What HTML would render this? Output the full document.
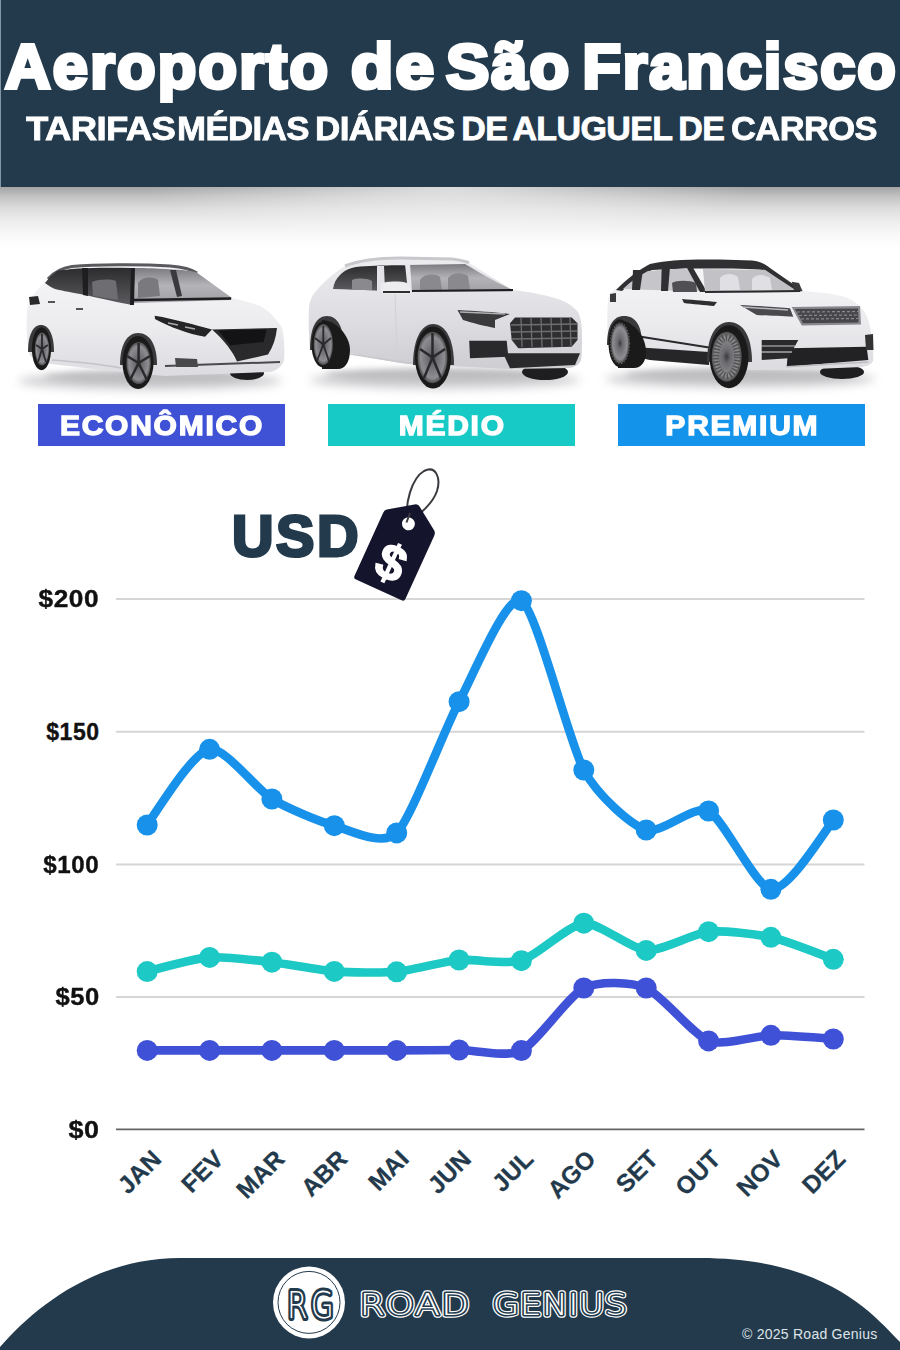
<!DOCTYPE html>
<html lang="pt">
<head>
<meta charset="utf-8">
<title>Aeroporto de São Francisco - Tarifas médias diárias de aluguel de carros</title>
<style>
html,body{margin:0;padding:0;}
body{width:900px;height:1350px;overflow:hidden;background:#fff;position:relative;font-family:"Liberation Sans",Arial,sans-serif;}
.abs{position:absolute;}
#hdr{left:0;top:0;width:900px;height:187px;background:#233a4c;}
#hdr:before{content:"";position:absolute;left:0;top:0;width:1px;height:187px;background:#8196a6;}
#shadow{left:0;top:187px;width:900px;height:70px;background:radial-gradient(ellipse 300px 50px at 450px 0px,rgba(255,255,255,0.6),rgba(255,255,255,0) 100%),linear-gradient(#a4a4a4 0px,#c4c4c4 10px,#dedede 22px,#efefef 36px,#fafafa 50px,#fff 62px);}
#title{left:0;top:31px;width:900px;height:70px;color:#fff;font-weight:bold;font-size:63px;line-height:70px;white-space:nowrap;-webkit-text-stroke:4px #fff;letter-spacing:1.95px;}
#title span{position:absolute;top:0;transform-origin:0 50%;}
#sub{left:0;top:108px;width:900px;height:40px;color:#fff;font-weight:bold;font-size:34px;line-height:40px;white-space:nowrap;-webkit-text-stroke:0.8px #fff;letter-spacing:-0.6px;}
#sub span{position:absolute;top:0;transform-origin:0 50%;}
.lbl{top:404px;height:42px;color:#fff;font-weight:bold;font-size:27px;line-height:45px;text-align:center;white-space:nowrap;overflow:hidden;}
.lbl span{display:inline-block;transform:scaleX(1.11);letter-spacing:1.6px;margin-right:-1.6px;-webkit-text-stroke:1.3px #fff;}
#l1{left:38px;width:247px;background:#3f51d4;}
#l2{left:328px;width:247px;background:#18cac5;}
#l3{left:618px;width:247px;background:#1493ea;}
#usd{left:232px;top:503.8px;color:#233a4c;font-weight:bold;font-size:57.5px;line-height:64px;-webkit-text-stroke:3px #233a4c;letter-spacing:2.6px;}
.yl{right:801px;color:#111;font-weight:bold;font-size:23px;line-height:24px;text-align:right;letter-spacing:0.5px;margin-right:-0.5px;-webkit-text-stroke:0.35px #111;}
#svg{left:0;top:0;}
#copy{left:742px;top:1326px;color:#dfe4e8;font-size:14px;line-height:16px;letter-spacing:0.25px;}
</style>
</head>
<body>
<div id="hdr" class="abs"></div>
<div id="shadow" class="abs"></div>
<div id="title" class="abs"><span style="left:5px;letter-spacing:2.3px">Aeroporto</span> <span style="left:350.5px;transform:scaleX(1.1)">de</span> <span style="left:445.8px;transform:scaleX(1.03)">São</span> <span style="left:582.4px">Francisco</span></div>
<div id="sub" class="abs"><span style="left:26.1px;transform:scaleX(1.075)">TARIFAS</span> <span style="left:177.3px;transform:scaleX(1.025)">MÉDIAS</span> <span style="left:315px;transform:scaleX(1.03)">DIÁRIAS</span> <span style="left:461.3px">DE</span> <span style="left:512.4px">ALUGUEL</span> <span style="left:678.3px">DE</span> <span style="left:731.1px;transform:scaleX(1.015)">CARROS</span></div>

<svg id="svg" class="abs" width="900" height="1350" viewBox="0 0 900 1350">
<defs>
<filter id="blur6" x="-30%" y="-200%" width="160%" height="500%"><feGaussianBlur stdDeviation="5"/></filter>
<filter id="blur3" x="-30%" y="-200%" width="160%" height="500%"><feGaussianBlur stdDeviation="3"/></filter>
<linearGradient id="body" x1="0" y1="0" x2="0" y2="1"><stop offset="0" stop-color="#f6f6f8"/><stop offset="0.55" stop-color="#ececef"/><stop offset="1" stop-color="#dcdce0"/></linearGradient>
<linearGradient id="body2" x1="0" y1="0" x2="0" y2="1"><stop offset="0" stop-color="#ececef"/><stop offset="0.55" stop-color="#dedee2"/><stop offset="1" stop-color="#cdcdd2"/></linearGradient>
<linearGradient id="glassD" x1="0" y1="0" x2="0" y2="1"><stop offset="0" stop-color="#2c2c2e"/><stop offset="1" stop-color="#5c5c60"/></linearGradient>
<linearGradient id="glassL" x1="0" y1="0" x2="0" y2="1"><stop offset="0" stop-color="#7c7c80"/><stop offset="0.5" stop-color="#b4b4b8"/><stop offset="1" stop-color="#a0a0a4"/></linearGradient>
<radialGradient id="rim"><stop offset="0" stop-color="#3a3a3c"/><stop offset="0.25" stop-color="#6a6a6e"/><stop offset="0.8" stop-color="#8e8e92"/><stop offset="1" stop-color="#4a4a4c"/></radialGradient>
</defs>
<!-- ground shadows -->
<ellipse cx="150" cy="381" rx="132" ry="9" fill="#cfcfd2" filter="url(#blur6)"/>
<ellipse cx="445" cy="380" rx="135" ry="9" fill="#cfcfd2" filter="url(#blur6)"/>
<ellipse cx="740" cy="379" rx="135" ry="9" fill="#cfcfd2" filter="url(#blur6)"/>
<ellipse cx="150" cy="377" rx="105" ry="6" fill="#bdbdc0" filter="url(#blur3)"/>
<ellipse cx="440" cy="375" rx="115" ry="6" fill="#bdbdc0" filter="url(#blur3)"/>
<ellipse cx="740" cy="375" rx="115" ry="6" fill="#bdbdc0" filter="url(#blur3)"/>

<!-- ===== ECONOMY (hatchback) ===== -->
<g>
<ellipse cx="247" cy="373" rx="17" ry="7" fill="#1e1e20"/>
<path d="M30 356 C27 345 26 325 27 312 C28 302 32 295 40 287 L50 277 C55 272 60 269 70 267 C90 265 130 264 160 266 C175 267 190 268 196 272 L232 298 C245 301 255 304 260 306 C268 310 276 318 282 328 C284 335 285 350 284 360 C282 366 278 370 270 372 L165 376 L120 372 C95 369 70 366 50 364 Z" fill="url(#body)"/>
<path d="M48 279 C54 272 62 268 72 266.5 C95 264.5 140 264 170 266 C182 267 191 269 197 273" fill="none" stroke="#5a5a5e" stroke-width="3"/>
<path d="M45 283 L50 277 L57 271 C70 268 100 267 133 268 L132 305 C120 303 100 298 80 294 C68 292 60 290 55 289 C52 288 49 286 45 283 Z" fill="url(#glassD)"/>
<path d="M92 282 C100 279 110 279 116 281 L118 300 L93 296 Z" fill="#6e6e72"/>
<path d="M82 268 L88 268 L88 296 L83 295 Z" fill="#1e1e20"/>
<path d="M133 268 C150 268 180 269 196 272 L232 298 L231 300 L133 303 Z" fill="url(#glassL)"/>
<path d="M138 283 C142 277 152 276 158 280 L160 296 L138 298 Z" fill="#7a7a7e"/>
<path d="M170 270 L176 270 L182 296 L177 297 Z" fill="#3a3a3c"/>
<path d="M131 268 L135 268 L134 305 L130 305 Z" fill="#1e1e20"/>
<path d="M133 300 L231 298.5" stroke="#1e1e20" stroke-width="2.5"/>
<path d="M29 297 L38 296 L40 304 L30 305 Z" fill="#2a2a2c"/>
<path d="M48 302 L55 302 M76 309 L83 309" stroke="#555" stroke-width="2"/>
<path d="M154.7 315.7 C175 319 195 325 212 329.6 L205 336.8 C188 334 170 327 155 319 Z" fill="#242426"/>
<path d="M168 323 L178 325 M185 327 L195 329" stroke="#aaa" stroke-width="1.5"/>
<path d="M212 329.6 L277 328 C276 338 273 347 268 354.5 L237 361.5 C233 352 224 340 212 329.6 Z" fill="#2a2a2c"/>
<path d="M218.4 330.4 L266.6 329.6 L263.5 342 L230 345.2 Z" fill="#131315"/>
<path d="M175 358 L197 359 L198 367 L176 367 Z" fill="#48484a"/>
<path d="M165 366 L280 362" stroke="#4a4a4c" stroke-width="2"/>
<path d="M52 360 C80 362 105 365 121 368" stroke="#c4c4c8" stroke-width="1.5" fill="none"/>
<!-- wheels -->
<path d="M28 352 C28 335 33 325 41 325 C49 325 54 335 54 352 Z" fill="#3a3a3c"/>
<ellipse cx="41.5" cy="348.7" rx="9.6" ry="21.5" fill="#1a1a1a"/>
<ellipse cx="42" cy="349" rx="7.2" ry="16.5" fill="url(#rim)"/>
<path d="M120 365 C120 345 127 333 138 333 C150 333 157 345 157 365 Z" fill="#3a3a3c"/>
<ellipse cx="138" cy="362.4" rx="15.5" ry="26.5" fill="#1a1a1a"/>
<ellipse cx="138.6" cy="363" rx="12.3" ry="21" fill="url(#rim)"/>
<g stroke="#2a2a2c" stroke-width="2.5"><line x1="138.6" y1="363" x2="138.6" y2="343"/><line x1="138.6" y1="363" x2="150" y2="356"/><line x1="138.6" y1="363" x2="147" y2="380"/><line x1="138.6" y1="363" x2="130" y2="380"/><line x1="138.6" y1="363" x2="127" y2="356"/></g>
<g stroke="#2a2a2c" stroke-width="1.8"><line x1="42" y1="349" x2="42" y2="334"/><line x1="42" y1="349" x2="48" y2="345"/><line x1="42" y1="349" x2="46" y2="362"/><line x1="42" y1="349" x2="38" y2="362"/><line x1="42" y1="349" x2="36" y2="345"/></g>
</g>

<!-- ===== MEDIUM (Q8) ===== -->
<g>
<ellipse cx="545" cy="372" rx="23" ry="8" fill="#1e1e20"/>
<path d="M310 350 C309 335 308 318 309.2 305 C311 298 313 294 317 290 C322 284 328 278 335 273 C340 269 345 266 350 264 C362 260 375 258 390 258 L450 260 C458 261 465 262 469 263 L513 290 C530 292 545 295 555 298 C565 301 572 305 578 312 C581 318 582 325 582 335 C582 345 582 355 581 360 C579 365 575 367 570 368 L510 369 L468 367 L450 366 C430 365 415 365 400 363 C380 360 365 356 350 353 Z" fill="url(#body2)"/>
<path d="M345 266 C360 260 380 258 400 258 L452 259 C460 260 466 261 469 263" fill="none" stroke="#c8c8cc" stroke-width="3"/>
<path d="M333 289 C334 283 336 279 340 275 C345 270 350 268 356 267 C370 266 390 265 407 265.5 L410 291 C390 291 360 290 333 289 Z" fill="url(#glassD)"/>
<path d="M352 280 C358 278 366 278 372 281 L372 290 L352 290 Z" fill="#8a8a8e"/>
<path d="M377 266 L384 266 L385 291 L377 291 Z" fill="#e4e4e8"/>
<path d="M407 265 L465 264 C475 270 495 282 513 290 L512 291.5 L410 292 Z" fill="url(#glassL)"/>
<path d="M420 280 C424 274 434 273 440 277 L442 290 L420 290 Z" fill="#8a8a8e"/>
<path d="M448 278 C452 272 462 272 468 276 L470 290 L448 290 Z" fill="#8a8a8e"/>
<path d="M410 291 L513 290" stroke="#1e1e20" stroke-width="2"/>
<path d="M405 264 L410 264 L412 292 L408 292 Z" fill="#e8e8ec"/>
<path d="M381 284 C385 281 400 281 407 283 L411 290 C411 293 408 294 404 294 L385 294 C381 293 380 288 381 284 Z" fill="#ededf0"/>
<path d="M383 292 L410 292" stroke="#2e2e30" stroke-width="2"/>
<path d="M457.5 310 C475 311 495 312 510 314 L495 320 L495 328 C485 326 472 323 463 320 Z" fill="#3a3a3c"/>
<path d="M460 312 L505 314" stroke="#b0b0b4" stroke-width="1.5"/>
<path d="M515 317.5 L571.7 317.5 L577.5 323.3 L577.5 340 L571.7 346.7 L518.3 348.3 L511.7 340 L510 323.3 Z" fill="#2e2e30"/>
<g stroke="#6e6e72" stroke-width="1.3">
<line x1="511" y1="325" x2="577" y2="324"/><line x1="511" y1="332" x2="577" y2="331"/><line x1="512" y1="339" x2="577" y2="338"/>
<line x1="521" y1="318" x2="522" y2="347"/><line x1="531" y1="318" x2="532" y2="347"/><line x1="541" y1="318" x2="542" y2="347"/><line x1="551" y1="318" x2="552" y2="347"/><line x1="561" y1="318" x2="562" y2="347"/><line x1="570" y1="318" x2="571" y2="346"/>
</g>
<path d="M469.2 340.8 L506.7 340.8 L508.3 356.7 L470 358.3 Z" fill="#2a2a2c"/>
<path d="M503 353.3 L580 353.3 L575 365 L510 368.3 Z" fill="#2a2a2c"/>
<path d="M350 354 C380 359 410 363 418 364" stroke="#c8c8cc" stroke-width="1.5" fill="none"/>
<path d="M395 294 L397 350" stroke="#d2d2d6" stroke-width="1"/>
<!-- wheels -->
<path d="M310 350 C310 328 316 316 327 316 C338 316 344 328 344 350 Z" fill="#3a3a3c"/>
<path d="M322 320 C335 320 350 335 350 350 C350 362 345 369 338 369 L322 369 Z" fill="#1a1a1a"/>
<ellipse cx="323" cy="344.5" rx="11.5" ry="23" fill="#1a1a1a"/>
<ellipse cx="323.3" cy="344.5" rx="9.6" ry="20.5" fill="url(#rim)"/>
<g stroke="#2a2a2c" stroke-width="1.8"><line x1="323.3" y1="344.5" x2="323.3" y2="326"/><line x1="323.3" y1="344.5" x2="331" y2="338"/><line x1="323.3" y1="344.5" x2="329" y2="361"/><line x1="323.3" y1="344.5" x2="317" y2="361"/><line x1="323.3" y1="344.5" x2="315" y2="338"/></g>
<path d="M413 365 C413 340 421 324 433 324 C446 324 454 340 454 365 Z" fill="#3a3a3c"/>
<ellipse cx="433" cy="357.5" rx="18" ry="31" fill="#1a1a1a"/>
<ellipse cx="432.5" cy="357.5" rx="15" ry="25.8" fill="url(#rim)"/>
<g stroke="#2a2a2c" stroke-width="2.5"><line x1="432.5" y1="357.5" x2="432.5" y2="333"/><line x1="432.5" y1="357.5" x2="445" y2="349"/><line x1="432.5" y1="357.5" x2="441" y2="378"/><line x1="432.5" y1="357.5" x2="424" y2="378"/><line x1="432.5" y1="357.5" x2="420" y2="349"/></g>
</g>

<!-- ===== PREMIUM (Velar) ===== -->
<g>
<ellipse cx="842" cy="372" rx="22" ry="7" fill="#1e1e20"/>
<path d="M608 340 C607 325 607 310 608.3 298 C610 293 613 290 617 288 C625 281 635 272 648 265 C660 261 680 260 700 260 L750 261 C757 262 762 263 766 266 L802 291 C820 292 835 294 845 297 C853 300 858 304 863 310 C867 315 870 322 871.7 336.7 C873 345 873.5 355 873.3 360 C872 364 868 366 862 367 L790 370 L752 370 L740 368 C720 366 712 365 708 365 L650 360 L640 357 Z" fill="url(#body)"/>
<path d="M616 290 C626 280 638 270 650 264 C665 260 690 259 720 259.5 L752 260.5 C760 261.5 765 264 770 268 L803 291 L796 292 L765 270 C740 268 680 268 652 270 C640 276 630 284 622 291 Z" fill="#303032"/>
<path d="M623 289 C630 282 638 276 648 271 L688 268 L706 291 C680 291 650 290 623 289 Z" fill="#c6c6ca"/>
<path d="M633 270 L643 270 L640 290 L632 290 Z" fill="#303032"/>
<path d="M661.7 267 L670 267 L668 291 L661 291 Z" fill="#303032"/>
<path d="M686 266 L692 266 L707 292 L700 292 Z" fill="#303032"/>
<path d="M703 269 L765 270 L797 291 L705 292 Z" fill="#c2c2c6"/>
<path d="M720 278 C724 273 733 273 738 277 L740 290 L720 290 Z" fill="#e0e0e4"/>
<path d="M752 279 C756 274 764 274 770 278 L772 290 L752 290 Z" fill="#e0e0e4"/>
<path d="M672 283 C676 280 690 280 696 283 L697 292 L673 292 Z" fill="#505054"/>
<path d="M705 292 L800 291" stroke="#2a2a2c" stroke-width="2"/>
<path d="M791.7 281.7 L799 283 L802 290 L794 290 Z" fill="#3a3a3c"/>
<path d="M610 294 L616 293 L616 302 L610 302 Z" fill="#3a3a3c"/>
<path d="M682 299 C695 300 708 301 717 302 L714 306 C705 305 692 304 684 303 Z" fill="#2e2e30"/>
<path d="M740 305 C760 306 778 307 790 308.3 L793.3 316.7 C780 316 765 315.5 756.7 315 Z" fill="#4a4a4e"/>
<path d="M743 307 L788 310" stroke="#b8b8bc" stroke-width="1.5"/>
<path d="M791.7 307 L860 306 L861 324.5 L801.7 325.5 Z" fill="#8a8a8e"/>
<path d="M795 309 L858 308.5 L858.5 322.5 L803 323.3 Z" fill="#47474b"/>
<g stroke="#8a8a8e" stroke-width="1.2" stroke-dasharray="3 2"><line x1="797" y1="312" x2="858" y2="311.5"/><line x1="799" y1="315.5" x2="858" y2="315"/><line x1="801" y1="319" x2="858" y2="318.5"/></g>
<path d="M788.3 348.3 L866.7 346.7 L868.3 360 L786.7 366.7 Z" fill="#222224"/>
<path d="M786.7 366.7 L868.3 362" stroke="#bdbdc0" stroke-width="1.5"/>
<path d="M761.7 340 L798.3 340 L788.3 358.3 L761.7 360 Z" fill="#2a2a2c"/>
<g stroke="#c8c8cc" stroke-width="1.2"><line x1="761" y1="346" x2="795" y2="346"/><line x1="761" y1="352" x2="792" y2="352"/></g>
<path d="M865 335 L873 334 L873.5 350 L866 350 Z" fill="#333"/>
<path d="M634 347 L709 352 L709 365 L650 360 L636 357 Z" fill="#262628"/>
<path d="M633 335.5 L709 347.5" stroke="#2a2a2c" stroke-width="2.2"/>
<!-- wheels -->
<path d="M607 345 C607 326 613 316 624 316 C636 316 642 326 642 345 Z" fill="#3a3a3c"/>
<path d="M618 320 C632 320 646 335 646 352 C646 362 641 368 634 368 L618 368 Z" fill="#1a1a1a"/>
<ellipse cx="620" cy="343.3" rx="11.5" ry="24" fill="#1a1a1a"/>
<ellipse cx="620" cy="343.3" rx="9.2" ry="20" fill="url(#rim)"/>
<ellipse cx="620" cy="343.3" rx="9.2" ry="20" fill="none" stroke="#555" stroke-width="2" stroke-dasharray="1.5 1.5"/>
<path d="M707 362 C707 338 715 322 729 322 C744 322 752 338 752 362 Z" fill="#3a3a3c"/>
<ellipse cx="729" cy="356.7" rx="19.5" ry="31.5" fill="#1a1a1a"/>
<ellipse cx="726.7" cy="356.7" rx="15" ry="25" fill="url(#rim)"/>
<ellipse cx="726.7" cy="356.7" rx="11" ry="19" fill="none" stroke="#555" stroke-width="7" stroke-dasharray="1.6 1.6"/>
</g>

<!-- gridlines -->
<g stroke="#d6d6d6" stroke-width="2">
<line x1="116" y1="599" x2="864.5" y2="599"/>
<line x1="116" y1="731.7" x2="864.5" y2="731.7"/>
<line x1="116" y1="864.4" x2="864.5" y2="864.4"/>
<line x1="116" y1="997.1" x2="864.5" y2="997.1"/>
</g>
<line x1="116" y1="1129.4" x2="864.5" y2="1129.4" stroke="#646464" stroke-width="1.7"/>
<path d="M147.2 1050.4 C171.1 1050.4 195.0 1050.4 209.6 1050.4 C224.1 1050.4 257.4 1050.4 271.9 1050.4 C286.5 1050.4 319.8 1050.4 334.3 1050.4 C348.9 1050.4 382.1 1050.4 396.7 1050.4 C411.2 1050.4 444.5 1050.0 459.1 1050.0 C473.6 1050.0 506.9 1057.8 521.4 1050.6 C536.0 1043.4 569.3 995.3 583.8 988.0 C598.4 980.7 631.6 981.8 646.2 988.0 C660.7 994.2 694.0 1035.4 708.6 1040.9 C723.1 1046.4 756.4 1035.5 770.9 1035.3 C785.5 1035.1 809.4 1037.0 833.3 1039.0" fill="none" stroke="#3f51d6" stroke-width="8.6" stroke-linecap="round" stroke-linejoin="round"/>
<circle cx="147.2" cy="1050.4" r="10.5" fill="#3f51d6"/>
<circle cx="209.6" cy="1050.4" r="10.5" fill="#3f51d6"/>
<circle cx="271.9" cy="1050.4" r="10.5" fill="#3f51d6"/>
<circle cx="334.3" cy="1050.4" r="10.5" fill="#3f51d6"/>
<circle cx="396.7" cy="1050.4" r="10.5" fill="#3f51d6"/>
<circle cx="459.1" cy="1050.0" r="10.5" fill="#3f51d6"/>
<circle cx="521.4" cy="1050.6" r="10.5" fill="#3f51d6"/>
<circle cx="583.8" cy="988.0" r="10.5" fill="#3f51d6"/>
<circle cx="646.2" cy="988.0" r="10.5" fill="#3f51d6"/>
<circle cx="708.6" cy="1040.9" r="10.5" fill="#3f51d6"/>
<circle cx="770.9" cy="1035.3" r="10.5" fill="#3f51d6"/>
<circle cx="833.3" cy="1039.0" r="10.5" fill="#3f51d6"/>
<path d="M147.2 971.6 C171.1 965.0 195.0 958.5 209.6 957.4 C224.1 956.3 257.4 960.6 271.9 962.2 C286.5 963.8 319.8 970.3 334.3 971.4 C348.9 972.5 382.1 973.1 396.7 971.8 C411.2 970.5 444.5 961.3 459.1 960.0 C473.6 958.7 506.9 965.0 521.4 960.7 C536.0 956.4 569.3 924.4 583.8 923.2 C598.4 922.0 631.6 949.4 646.2 950.4 C660.7 951.4 694.0 933.2 708.6 931.7 C723.1 930.2 756.4 934.1 770.9 937.3 C785.5 940.5 809.4 949.9 833.3 959.3" fill="none" stroke="#1cc9c5" stroke-width="8.6" stroke-linecap="round" stroke-linejoin="round"/>
<circle cx="147.2" cy="971.6" r="10.5" fill="#1cc9c5"/>
<circle cx="209.6" cy="957.4" r="10.5" fill="#1cc9c5"/>
<circle cx="271.9" cy="962.2" r="10.5" fill="#1cc9c5"/>
<circle cx="334.3" cy="971.4" r="10.5" fill="#1cc9c5"/>
<circle cx="396.7" cy="971.8" r="10.5" fill="#1cc9c5"/>
<circle cx="459.1" cy="960.0" r="10.5" fill="#1cc9c5"/>
<circle cx="521.4" cy="960.7" r="10.5" fill="#1cc9c5"/>
<circle cx="583.8" cy="923.2" r="10.5" fill="#1cc9c5"/>
<circle cx="646.2" cy="950.4" r="10.5" fill="#1cc9c5"/>
<circle cx="708.6" cy="931.7" r="10.5" fill="#1cc9c5"/>
<circle cx="770.9" cy="937.3" r="10.5" fill="#1cc9c5"/>
<circle cx="833.3" cy="959.3" r="10.5" fill="#1cc9c5"/>
<path d="M147.2 825.0 C171.1 788.7 195.0 752.3 209.6 749.3 C224.1 746.3 257.4 790.1 271.9 799.0 C286.5 807.9 319.8 821.7 334.3 825.7 C348.9 829.7 382.1 847.4 396.7 832.9 C411.2 818.4 444.5 728.8 459.1 701.7 C473.6 674.6 506.9 592.7 521.4 600.7 C536.0 608.7 569.3 743.2 583.8 770.0 C598.4 796.8 631.6 825.2 646.2 830.0 C660.7 834.8 694.0 804.1 708.6 811.0 C723.1 817.9 756.4 888.2 770.9 889.3 C785.5 890.3 809.4 855.2 833.3 820.0" fill="none" stroke="#1791ea" stroke-width="8.6" stroke-linecap="round" stroke-linejoin="round"/>
<circle cx="147.2" cy="825.0" r="10.5" fill="#1791ea"/>
<circle cx="209.6" cy="749.3" r="10.5" fill="#1791ea"/>
<circle cx="271.9" cy="799.0" r="10.5" fill="#1791ea"/>
<circle cx="334.3" cy="825.7" r="10.5" fill="#1791ea"/>
<circle cx="396.7" cy="832.9" r="10.5" fill="#1791ea"/>
<circle cx="459.1" cy="701.7" r="10.5" fill="#1791ea"/>
<circle cx="521.4" cy="600.7" r="10.5" fill="#1791ea"/>
<circle cx="583.8" cy="770.0" r="10.5" fill="#1791ea"/>
<circle cx="646.2" cy="830.0" r="10.5" fill="#1791ea"/>
<circle cx="708.6" cy="811.0" r="10.5" fill="#1791ea"/>
<circle cx="770.9" cy="889.3" r="10.5" fill="#1791ea"/>
<circle cx="833.3" cy="820.0" r="10.5" fill="#1791ea"/>

<path d="M408 522 C404 504 412 478 424 471 C436 465 441 478 437 491 C433 503 421 513 410 522" fill="none" stroke="#3a3a40" stroke-width="2"/>
<g transform="translate(379.7,590.4) rotate(24.5)">
<path d="M-26 0 L24 0 Q27 0 27 -3 L27 -72 Q27 -75 25 -77 L2 -92.5 Q-1 -95 -4 -92.5 L-27 -76.5 Q-29 -75 -29 -72 L-29 -3 Q-29 0 -26 0 Z" fill="#15142d"/>
<circle cx="-1.5" cy="-72.5" r="6.5" fill="#fff"/>
<text x="-1" y="-13" text-anchor="middle" font-family="Liberation Sans, Arial, sans-serif" font-weight="bold" font-size="50" fill="#fff" stroke="#fff" stroke-width="1.5">$</text>
</g>
<path d="M406.5 522.5 L410 513" stroke="#3a3a40" stroke-width="2"/>

<!-- footer -->
<path d="M0 1347 C36 1306 96 1258 180 1258 L700 1258 C830 1258 876 1318 900 1342 L900 1350 L0 1350 Z" fill="#233a4c"/>
<circle cx="309" cy="1302.4" r="36" fill="#fff"/>
<circle cx="309" cy="1302.4" r="31" fill="none" stroke="#233a4c" stroke-width="1"/>
<g font-family="DejaVu Sans" font-weight="200" font-size="38" text-anchor="start" letter-spacing="4">
<text x="0" y="0" transform="translate(287,1318) scale(0.78,1)" fill="#233a4c" stroke="#233a4c" stroke-width="6" stroke-linejoin="round">RG</text>
<text x="0" y="0" transform="translate(287,1318) scale(0.78,1)" fill="#fff">RG</text>
</g>
<g font-family="DejaVu Sans" font-weight="200" font-size="31" stroke-linejoin="round">
<g transform="translate(359.5,1314.5) scale(1.18,1)" letter-spacing="0.8">
<text x="0" y="0" fill="#fff" stroke="#fff" stroke-width="5.4">ROAD</text>
<text x="0" y="0" fill="#233a4c" stroke="#233a4c" stroke-width="3.1">ROAD</text>
<text x="0" y="0" fill="#fff">ROAD</text>
</g>
<g transform="translate(492.5,1314.5) scale(1.12,1)" letter-spacing="0.3">
<text x="0" y="0" fill="#fff" stroke="#fff" stroke-width="5.4">GENIUS</text>
<text x="0" y="0" fill="#233a4c" stroke="#233a4c" stroke-width="3.1">GENIUS</text>
<text x="0" y="0" fill="#fff">GENIUS</text>
</g>
</g>
<!-- x labels -->
<g font-family="Liberation Sans, Arial, sans-serif" font-weight="bold" font-size="24.5" fill="#233a4c" stroke="#233a4c" stroke-width="0.25" text-anchor="end">
<text transform="translate(162.7,1160.5) rotate(-45)">JAN</text>
<text transform="translate(225.1,1160.5) rotate(-45)">FEV</text>
<text transform="translate(285.9,1160.5) rotate(-45)">MAR</text>
<text transform="translate(348.8,1160.5) rotate(-45)">ABR</text>
<text transform="translate(410.2,1160.5) rotate(-45)">MAI</text>
<text transform="translate(472.6,1160.5) rotate(-45)">JUN</text>
<text transform="translate(534.9,1160.5) rotate(-45)">JUL</text>
<text transform="translate(597.3,1160.5) rotate(-45)">AGO</text>
<text transform="translate(659.7,1160.5) rotate(-45)">SET</text>
<text transform="translate(722.1,1160.5) rotate(-45)">OUT</text>
<text transform="translate(784.4,1160.5) rotate(-45)">NOV</text>
<text transform="translate(846.8,1160.5) rotate(-45)">DEZ</text>
</g>
</svg>

<div id="l1" class="abs lbl"><span>ECONÔMICO</span></div>
<div id="l2" class="abs lbl"><span>MÉDIO</span></div>
<div id="l3" class="abs lbl"><span>PREMIUM</span></div>
<div id="usd" class="abs">USD</div>

<div class="abs yl" style="top:587px;transform:scaleX(1.14);transform-origin:right">$200</div>
<div class="abs yl" style="top:720px">$150</div>
<div class="abs yl" style="top:852.5px;transform:scaleX(1.05);transform-origin:right">$100</div>
<div class="abs yl" style="top:985px;transform:scaleX(1.11);transform-origin:right">$50</div>
<div class="abs yl" style="top:1117.5px;transform:scaleX(1.17);transform-origin:right">$0</div>

<div id="copy" class="abs">© 2025 Road Genius</div>
</body>
</html>
